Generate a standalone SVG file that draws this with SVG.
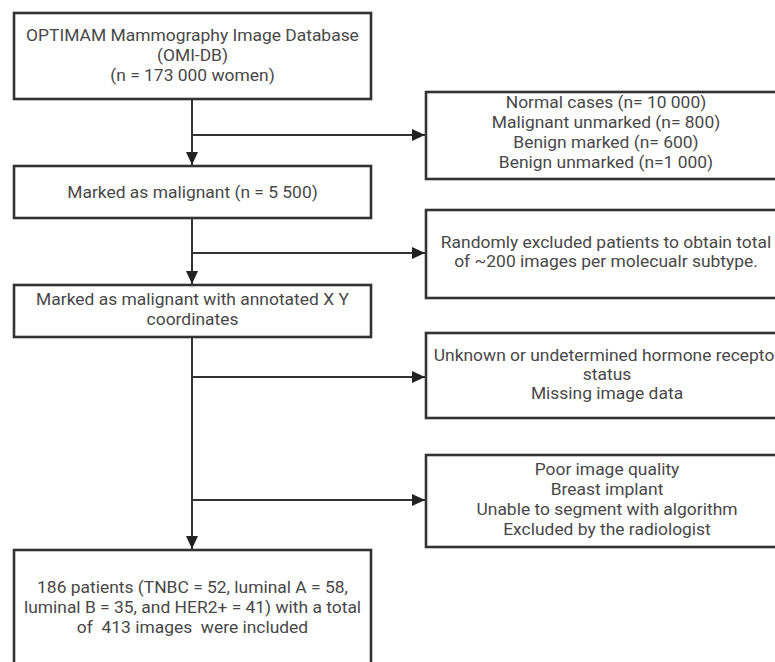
<svg xmlns="http://www.w3.org/2000/svg" width="775" height="662" viewBox="0 0 775 662">
<defs>
<style>
.box{fill:#fff;stroke:#333;stroke-width:2.6}
.ln{fill:none;stroke:#333;stroke-width:2}
.t{font-family:Roboto,"Liberation Sans",sans-serif;font-size:16px;fill:#484848;text-anchor:middle;white-space:pre}
</style>
<marker id="ah" markerUnits="userSpaceOnUse" markerWidth="14" markerHeight="12" refX="13" refY="6" orient="auto">
<path d="M0,0 L13,6 L0,12 Z" fill="#222"/>
</marker>
</defs>
<rect width="775" height="662" fill="#fff"/>
<g id="connectors">
<path class="ln" d="M192,99 V165" marker-end="url(#ah)"/>
<path class="ln" d="M192,135 H425" marker-end="url(#ah)"/>
<path class="ln" d="M192,218 V284" marker-end="url(#ah)"/>
<path class="ln" d="M192,253 H425" marker-end="url(#ah)"/>
<path class="ln" d="M192,337 V549" marker-end="url(#ah)"/>
<path class="ln" d="M192,377 H425" marker-end="url(#ah)"/>
<path class="ln" d="M192,500 H425" marker-end="url(#ah)"/>
</g>
<g id="n1">
<rect class="box" x="14" y="13" width="357" height="86"/>
<g transform="translate(192.5,0) scale(1.09,1)">
<text class="t" x="0" y="41">OPTIMAM Mammography Image Database</text>
<text class="t" x="0" y="61">(OMI-DB)</text>
<text class="t" x="0" y="81">(n = 173 000 women)</text>
</g>
</g>
<g id="n2">
<rect class="box" x="426" y="92" width="362" height="87"/>
<g transform="translate(606,0) scale(1.09,1)">
<text class="t" x="0" y="108">Normal cases (n= 10 000)</text>
<text class="t" x="0" y="128">Malignant unmarked (n= 800)</text>
<text class="t" x="0" y="148">Benign marked (n= 600)</text>
<text class="t" x="0" y="168">Benign unmarked (n=1 000)</text>
</g>
</g>
<g id="n3">
<rect class="box" x="14" y="166" width="357" height="52"/>
<g transform="translate(192.5,0) scale(1.09,1)">
<text class="t" x="0" y="198">Marked as malignant (n = 5 500)</text>
</g>
</g>
<g id="n4">
<rect class="box" x="426" y="210" width="362" height="88"/>
<g transform="translate(606,0) scale(1.09,1)">
<text class="t" x="0" y="248">Randomly excluded patients to obtain total</text>
<text class="t" x="0" y="267">of ~200 images per molecualr subtype.</text>
</g>
</g>
<g id="n5">
<rect class="box" x="14" y="285" width="357" height="52"/>
<g transform="translate(192.5,0) scale(1.09,1)">
<text class="t" x="0" y="305">Marked as malignant with annotated X Y</text>
<text class="t" x="0" y="325">coordinates</text>
</g>
</g>
<g id="n6">
<rect class="box" x="426" y="333" width="362" height="85"/>
<g transform="translate(607,0) scale(1.09,1)">
<text class="t" x="0" y="361">Unknown or undetermined hormone receptor</text>
<text class="t" x="0" y="380">status</text>
<text class="t" x="0" y="399">Missing image data</text>
</g>
</g>
<g id="n7">
<rect class="box" x="426" y="455" width="362" height="92"/>
<g transform="translate(607,0) scale(1.09,1)">
<text class="t" x="0" y="475">Poor image quality</text>
<text class="t" x="0" y="495">Breast implant</text>
<text class="t" x="0" y="515">Unable to segment with algorithm</text>
<text class="t" x="0" y="535">Excluded by the radiologist</text>
</g>
</g>
<g id="n8">
<rect class="box" x="14" y="550" width="357" height="130"/>
<g transform="translate(192.5,0) scale(1.09,1)">
<text class="t" x="0" y="593">186 patients (TNBC = 52, luminal A = 58,</text>
<text class="t" x="0" y="613">luminal B = 35, and HER2+ = 41) with a total</text>
<text class="t" x="0" y="633">of  413 images  were included</text>
</g>
</g>
</svg>
